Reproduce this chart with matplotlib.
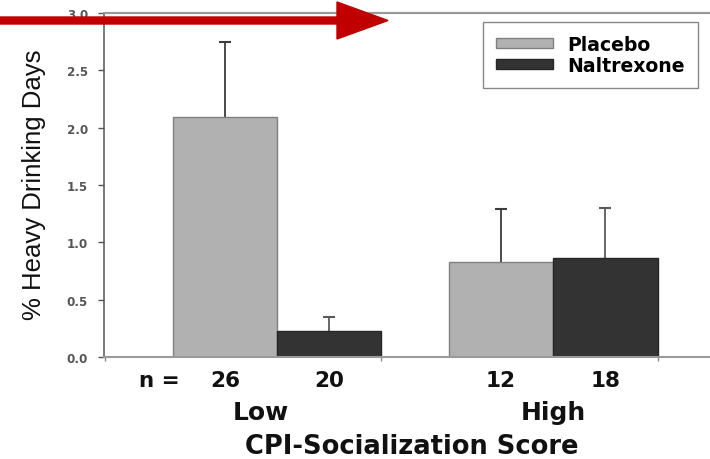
import matplotlib
matplotlib.use("Agg")
import matplotlib.pyplot as plt
from matplotlib.patches import Patch, FancyArrow
from matplotlib.transforms import IdentityTransform, blended_transform_factory
import numpy as np

# --- data -------------------------------------------------------------
groups = ["Low", "High"]
treatments = ["Placebo", "Naltrexone"]
placebo_mean = [2.09, 0.83]
naltrexone_mean = [0.23, 0.86]
placebo_sem = [0.66, 0.46]
naltrexone_sem = [0.12, 0.44]
placebo_n = [26, 12]
naltrexone_n = [20, 18]
yticks = [0.0, 0.5, 1.0, 1.5, 2.0, 2.5, 3.0]

# --- style ------------------------------------------------------------
DPI = 100
W, H = 710, 460
placebo_color = "#b1b1b1"
naltrexone_color = "#333333"
bold_font = "DejaVu Sans"
label_font = "Liberation Sans"

fig = plt.figure(figsize=(W / DPI, H / DPI), dpi=DPI, facecolor="white")
ax_left, ax_right, ax_bottom, ax_top = 104, 710, 358, 14
ax = fig.add_axes([ax_left / W, (H - ax_bottom) / H,
                   (ax_right - ax_left) / W, (ax_bottom - ax_top) / H])

x = np.arange(len(groups))
w = 0.3786

ax.bar(x - w / 2, placebo_mean, width=w, color=placebo_color,
       edgecolor="#808080", linewidth=1.0, zorder=2)
ax.bar(x + w / 2, naltrexone_mean, width=w, color=naltrexone_color,
       edgecolor="#262626", linewidth=1.0, zorder=2)


def upper_errorbars(xpos, mean, sem, color):
    """SEM whiskers drawn upward only, with a cap on the top end."""
    _, caps, _ = ax.errorbar(xpos, mean,
                             yerr=[np.zeros(len(mean)), sem],
                             fmt="none", ecolor=color, elinewidth=1.3,
                             capsize=4.6, capthick=1.5, zorder=1)
    caps[0].set_visible(False)  # no cap at the bar top


upper_errorbars(x - w / 2, placebo_mean, placebo_sem, "#3c3c3c")
upper_errorbars(x + w / 2, naltrexone_mean, naltrexone_sem, "#5a5a5a")

ax.set_ylim(0, 3.0)
ax.set_xlim(-0.6268, 1.5688)
ax.set_yticks(yticks)
ax.set_yticklabels([f"{t:.1f}" for t in yticks], fontfamily=bold_font,
                   fontweight="bold", fontsize=8.6, color="#555555")
ax.tick_params(axis="y", direction="out", length=4.5, width=1.0,
               color="#555555", pad=7)
ax.set_xticks([i + w for i in (-1, 0, 1)])
ax.set_xticklabels([])
ax.tick_params(axis="x", direction="out", length=3, width=1.0,
               color="#888888")

ax.spines["right"].set_visible(False)
ax.spines["left"].set_color("#555555")
ax.spines["left"].set_linewidth(1.1)
ax.spines["bottom"].set_color("#9a9a9a")
ax.spines["bottom"].set_linewidth(1.5)
ax.spines["top"].set_color("#9a9a9a")
ax.spines["top"].set_linewidth(1.6)

ax.set_ylabel("% Heavy Drinking Days", fontfamily=label_font,
              fontsize=18.5, color="#111111")
# label's baseline side sits about 46 px from the left edge
ax.yaxis.set_label_coords(-(ax_left - 46) / (ax_right - ax_left),
                          (ax_bottom - 185) / (ax_bottom - ax_top))

# sample sizes and group labels under the axis
tr = blended_transform_factory(ax.transData, ax.transAxes)
pt = 72.0 / DPI  # pixels -> points


def under(xpos, text, dy_px, size, dx_px=0):
    ax.annotate(text, xy=(xpos, 0), xycoords=tr,
                xytext=(dx_px * pt, -dy_px * pt), textcoords="offset points",
                ha="center", va="center", fontfamily=bold_font,
                fontweight="bold", fontsize=size, color="#111111",
                annotation_clip=False)


for i in range(len(groups)):
    under(x[i] - w / 2, str(placebo_n[i]), 23, 15.5)
    under(x[i] + w / 2, str(naltrexone_n[i]), 23, 15.5)
under(x[0] - w / 2, "n =", 23, 15.5, dx_px=-65)
under(x[0], groups[0], 55, 18, dx_px=-16)
under(x[1], groups[1], 55, 18)
under((x[0] + x[1]) / 2, "CPI-Socialization Score", 89, 18.5,
      dx_px=-3)

handles = [Patch(facecolor=placebo_color, edgecolor="#808080", label=treatments[0]),
           Patch(facecolor=naltrexone_color, edgecolor="#262626", label=treatments[1])]
leg = ax.legend(handles=handles, loc="upper left",
                bbox_to_anchor=((483 - ax_left) / (ax_right - ax_left),
                                (ax_bottom - 23) / (ax_bottom - ax_top)),
                borderaxespad=0, frameon=True, fancybox=False, framealpha=1,
                handlelength=3.0, handleheight=0.45, handletextpad=0.8,
                borderpad=0.68, labelspacing=0.12,
                prop={"family": bold_font, "weight": "bold", "size": 13.6})
leg.get_frame().set_edgecolor("#888888")
leg.get_frame().set_linewidth(1.0)

# red pointer arrow across the top of the figure
arrow = FancyArrow(-2, H - 21.5, 339, 0, width=7, head_width=37,
                   head_length=51, length_includes_head=False,
                   color="#c00000", transform=IdentityTransform(),
                   zorder=10, clip_on=False)
fig.add_artist(arrow)

fig.savefig("out.png", dpi=DPI, facecolor="white")
